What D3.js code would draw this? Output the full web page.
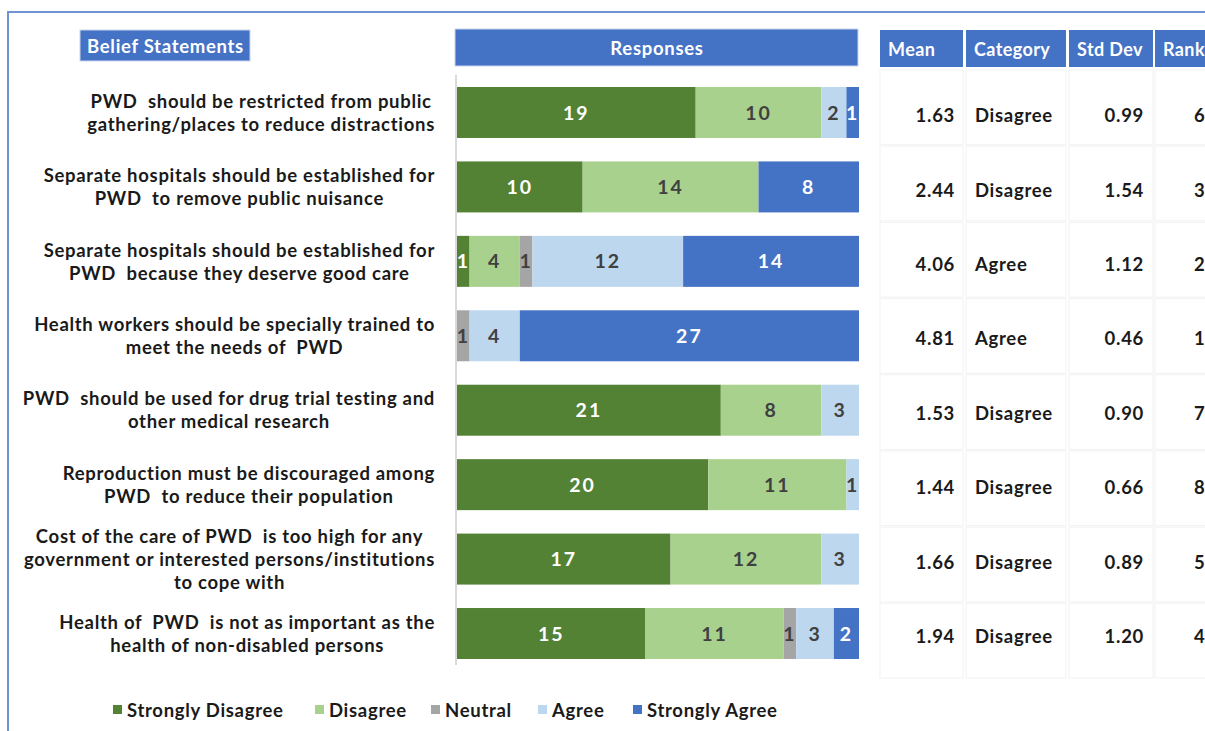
<!DOCTYPE html>
<html>
<head>
<meta charset="utf-8">
<script src="https://cdn.jsdelivr.net/npm/d3@7"></script>
<style>
  html, body { margin: 0; padding: 0; background: #ffffff; }
  svg { display: block; font-family: Lato, "Open Sans", sans-serif; font-weight: 700; }
  svg text { white-space: pre; }
</style>
</head>
<body>
<svg id="chart" width="1205" height="731"></svg>
<script>
// ---------------- data ----------------
const statements = [
  ["PWD  should be restricted from public", "gathering/places to reduce distractions"],
  ["Separate hospitals should be established for", "PWD  to remove public nuisance"],
  ["Separate hospitals should be established for", "PWD  because they deserve good care"],
  ["Health workers should be specially trained to", "meet the needs of  PWD"],
  ["PWD  should be used for drug trial testing and", "other medical research"],
  ["Reproduction must be discouraged among", "PWD  to reduce their population"],
  ["Cost of the care of PWD  is too high for any", "government or interested persons/institutions", "to cope with"],
  ["Health of  PWD  is not as important as the", "health of non-disabled persons"]
];
const responseLevels = ["Strongly Disagree", "Disagree", "Neutral", "Agree", "Strongly Agree"];
const stronglyDisagree = [19, 10, 1, 0, 21, 20, 17, 15];
const disagree         = [10, 14, 4, 0, 8, 11, 12, 11];
const neutral          = [0, 0, 1, 1, 0, 0, 0, 1];
const agree            = [2, 0, 12, 4, 3, 1, 3, 3];
const stronglyAgree    = [1, 8, 14, 27, 0, 0, 0, 2];
const means     = [1.63, 2.44, 4.06, 4.81, 1.53, 1.44, 1.66, 1.94];
const verdicts  = ["Disagree", "Disagree", "Agree", "Agree", "Disagree", "Disagree", "Disagree", "Disagree"];
const stdDevs   = [0.99, 1.54, 1.12, 0.46, 0.90, 0.66, 0.89, 1.20];
const ranks     = [6, 3, 2, 1, 7, 8, 5, 4];
const tableHeaders = ["Mean", "Category", "Std Dev", "Rank"];

// ---------------- styles ----------------
const colors = ["#548235", "#a9d18e", "#a5a5a5", "#bdd7ee", "#4472c4"];
const labelColors = ["#ffffff", "#404040", "#404040", "#404040", "#ffffff"];
const headerBlue = "#4472c4";
const textDark = "#1a1a1a";
const LS = "0.7px";

const svg = d3.select("#chart");

// frame
svg.append("path")
  .attr("d", "M8,731 L8,12 L1205,12")
  .attr("fill", "none").attr("stroke", "#6f93d3").attr("stroke-width", 2);

// build stacked rows
const rows = statements.map((s, i) => ({
  idx: i,
  values: [stronglyDisagree[i], disagree[i], neutral[i], agree[i], stronglyAgree[i]]
}));
const stack = d3.stack().keys(d3.range(5)).value((d, k) => d.values[k]);
const series = stack(rows);

const total = d3.max(rows, r => d3.sum(r.values));
const x = d3.scaleLinear().domain([0, total]).range([457, 859]);
const y = d3.scaleBand().domain(d3.range(rows.length)).range([87, 659]).paddingInner(0.315);

// vertical axis line
const axis = d3.axisLeft(y).tickSize(0).tickFormat("");
svg.append("g").attr("transform", "translate(456,0)").call(axis)
  .call(g => g.select(".domain").attr("stroke", "#d9d9d9").attr("stroke-width", 2)
    .attr("d", `M0,75V665`));

// bars
const layers = svg.append("g").selectAll("g").data(series).join("g")
  .attr("fill", (d, k) => colors[k]);
layers.selectAll("rect").data(d => d).join("rect")
  .attr("x", d => x(d[0]))
  .attr("y", (d, i) => y(i))
  .attr("width", d => x(d[1]) - x(d[0]))
  .attr("height", y.bandwidth());

// bar labels
series.forEach((s, k) => {
  svg.append("g").selectAll("text").data(s.filter(d => d[1] - d[0] > 0)).join("text")
    .attr("x", d => (x(d[0]) + x(d[1])) / 2)
    .attr("y", d => y(d.data.idx) + y.bandwidth() / 2)
    .attr("dy", "0.36em")
    .attr("text-anchor", "middle")
    .attr("font-size", 19.5)
    .attr("letter-spacing", "2px")
    .attr("fill", labelColors[k])
    .text(d => d[1] - d[0]);
});

// statement labels (block right-aligned, lines centered)
const lineH = 23;
statements.forEach((lines, i) => {
  const g = svg.append("g");
  const texts = g.selectAll("text").data(lines).join("text")
    .attr("font-size", 18.5).attr("fill", textDark)
    .attr("letter-spacing", LS)
    .attr("text-anchor", "middle")
    .text(d => d);
  let maxW = 0;
  texts.each(function () { maxW = Math.max(maxW, this.getComputedTextLength()); });
  const cx = 435 - maxW / 2;
  const cy = y(i) + y.bandwidth() / 2;
  texts.attr("x", cx)
    .attr("y", (d, j) => cy + (j - (lines.length - 1) / 2) * lineH)
    .attr("dy", "0.36em");
});

// headers
svg.append("rect").attr("x", 80).attr("y", 30).attr("width", 170).attr("height", 31)
  .attr("fill", headerBlue).attr("stroke", "#c9d6ee").attr("stroke-width", 1);
svg.append("text").attr("x", 87).attr("y", 46).attr("dy", "0.36em")
  .attr("font-size", 18.5).attr("letter-spacing", LS).attr("fill", "#ffffff").text("Belief Statements");

svg.append("rect").attr("x", 455).attr("y", 29).attr("width", 403).attr("height", 37)
  .attr("fill", headerBlue).attr("stroke", "#c9d6ee").attr("stroke-width", 1);
svg.append("text").attr("x", 657).attr("y", 48).attr("dy", "0.36em")
  .attr("text-anchor", "middle").attr("font-size", 18.5).attr("letter-spacing", LS)
  .attr("fill", "#ffffff").text("Responses");

// table
const cols = [
  { x0: 880, x1: 963 },
  { x0: 966, x1: 1066 },
  { x0: 1069, x1: 1153 },
  { x0: 1155, x1: 1225 }
];
const ty = d3.scaleBand().domain(d3.range(rows.length)).range([70, 678]).paddingInner(0.02);

cols.forEach((c, j) => {
  svg.append("rect").attr("x", c.x0).attr("y", 30).attr("width", c.x1 - c.x0).attr("height", 37)
    .attr("fill", headerBlue);
  svg.append("text").attr("x", c.x0 + 8).attr("y", 50).attr("dy", "0.36em")
    .attr("font-size", 18).attr("letter-spacing", "0.4px").attr("fill", "#ffffff").text(tableHeaders[j]);
  svg.append("g").selectAll("rect").data(d3.range(rows.length)).join("rect")
    .attr("x", c.x0).attr("y", i => ty(i)).attr("width", c.x1 - c.x0).attr("height", ty.bandwidth())
    .attr("fill", "none").attr("stroke", "#f2f2f2").attr("stroke-width", 1);
});

const cellText = (vals, xPos, anchor, fmt) => {
  svg.append("g").selectAll("text").data(vals).join("text")
    .attr("x", xPos)
    .attr("y", (d, i) => y(i) + y.bandwidth() / 2 + 3)
    .attr("dy", "0.36em")
    .attr("text-anchor", anchor)
    .attr("font-size", 18.5).attr("letter-spacing", LS).attr("fill", textDark)
    .text(fmt);
};
cellText(means, 955, "end", d => d.toFixed(2));
cellText(verdicts, 975, "start", d => d);
cellText(stdDevs, 1144, "end", d => d.toFixed(2));
cellText(ranks, 1194, "start", d => d);

// legend
const legendX = [113, 315, 431, 538, 633];
const lg = svg.append("g").selectAll("g").data(responseLevels).join("g")
  .attr("transform", (d, k) => `translate(${legendX[k]},710)`);
lg.append("rect").attr("x", 0).attr("y", -5).attr("width", 9).attr("height", 9)
  .attr("fill", (d, k) => colors[k]);
lg.append("text").attr("x", 14).attr("y", 0).attr("dy", "0.36em")
  .attr("font-size", 18.5).attr("letter-spacing", LS).attr("fill", textDark).text(d => d);
</script>
</body>
</html>
